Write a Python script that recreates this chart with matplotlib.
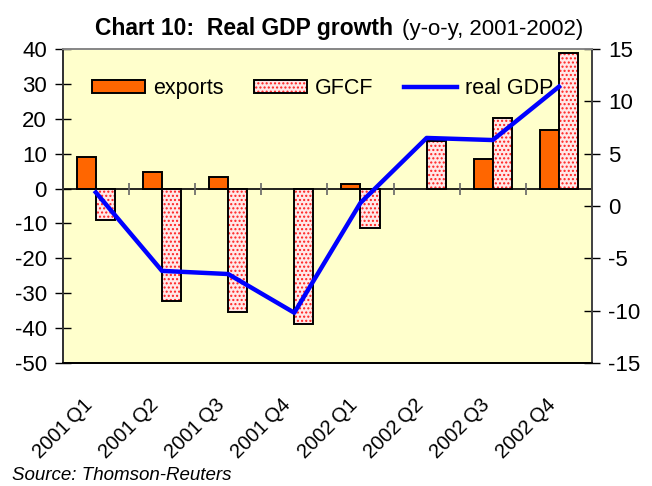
import numpy as np
from matplotlib import pyplot as plt
from matplotlib import transforms
from matplotlib.legend_handler import HandlerTuple

plt.rcParams['font.family'] = ['Liberation Sans', 'DejaVu Sans']
plt.rcParams['axes.unicode_minus'] = False

quarters = ['2001\u2009Q1', '2001\u2009Q2', '2001\u2009Q3', '2001\u2009Q4',
            '2002\u2009Q1', '2002\u2009Q2', '2002\u2009Q3', '2002\u2009Q4']
exports = [9.0, 4.8, 3.2, np.nan, 1.2, np.nan, 8.4, 16.9]
gfcf = [-8.9, -32.2, -35.3, -38.8, -11.4, 13.6, 20.2, 38.9]
real_gdp = [1.3, -6.2, -6.5, -10.2, 0.3, 6.5, 6.3, 11.4]

x = np.arange(len(quarters))
w = 0.29

fig = plt.figure(figsize=(6.52, 4.86), dpi=100)
ax = fig.add_axes([0.0962, 0.2531, 0.8118, 0.6461])
ax.set_facecolor('#ffffcc')

b1 = ax.bar(x - w/2, exports, w, color='#ff6600', edgecolor='black', linewidth=1.4, zorder=3)
# GFCF: pink with red dots, black outline drawn on top
b2a = ax.bar(x + w/2, gfcf, w, color='#ffe8e8', edgecolor='#ff2020', hatch='....',
             linewidth=0, zorder=3)
b2b = ax.bar(x + w/2, gfcf, w, fill=False, edgecolor='black', linewidth=1.4, zorder=4)

ax.axhline(0, color='black', lw=1.2, zorder=2)
# small category ticks on the zero line
ax.plot(x[:-1] + 0.5, np.zeros(len(x) - 1), linestyle='none', marker='|',
        markersize=9, markeredgewidth=1.2, color='#666666', zorder=2)

ax.set_xlim(-0.5, len(x) - 0.5)
ax.set_ylim(-50, 40)
ax.set_yticks(np.arange(-50, 41, 10))
ax.set_xticks(x)
ax.set_xticklabels(quarters, rotation=45, ha='right', va='top',
                   rotation_mode='anchor', fontsize=14.5)
ax.tick_params(axis='x', length=0, pad=23)
shift = transforms.ScaledTranslation(-13/100, 0, fig.dpi_scale_trans)
for lab in ax.get_xticklabels():
    lab.set_transform(lab.get_transform() + shift)
ax.tick_params(axis='y', direction='inout', length=11, labelsize=16, width=1, pad=6)

ax2 = ax.twinx()
ln, = ax2.plot(x, real_gdp, color='#0000ff', lw=3.2, zorder=5)
ax2.set_ylim(-15, 15)
ax2.set_yticks(np.arange(-15, 16, 5))
ax2.tick_params(axis='y', direction='inout', length=11, labelsize=16, width=1, pad=6)

for a in (ax, ax2):
    a.spines['top'].set_color('#888888')
    a.spines['left'].set_color('#333333')
    a.spines['right'].set_color('#444444')
    a.spines['bottom'].set_color('black')
    for s in a.spines.values():
        s.set_linewidth(1.3)

ax2.legend([b1[0], (b2a[0], b2b[0]), ln], ['exports', 'GFCF', 'real GDP'],
           handler_map={tuple: HandlerTuple(ndivide=1)},
           loc='center left', bbox_to_anchor=(0.0548, 0.874), ncol=3, frameon=False,
           fontsize=15.5, handlelength=2.47, handleheight=0.54, columnspacing=1.42,
           handletextpad=0.37, borderpad=0, borderaxespad=0)

fig.text(0.603, 0.928, 'Chart 10:  Real GDP growth', fontsize=16.5, fontweight='bold',
         ha='right', va='baseline')
fig.text(0.617, 0.928, '(y-o-y, 2001-2002)', fontsize=16, ha='left', va='baseline')
fig.text(0.018, 0.022, 'Source: Thomson-Reuters', fontsize=13.5, style='italic',
         ha='left', va='center')

fig.savefig('out.png', dpi=100)
